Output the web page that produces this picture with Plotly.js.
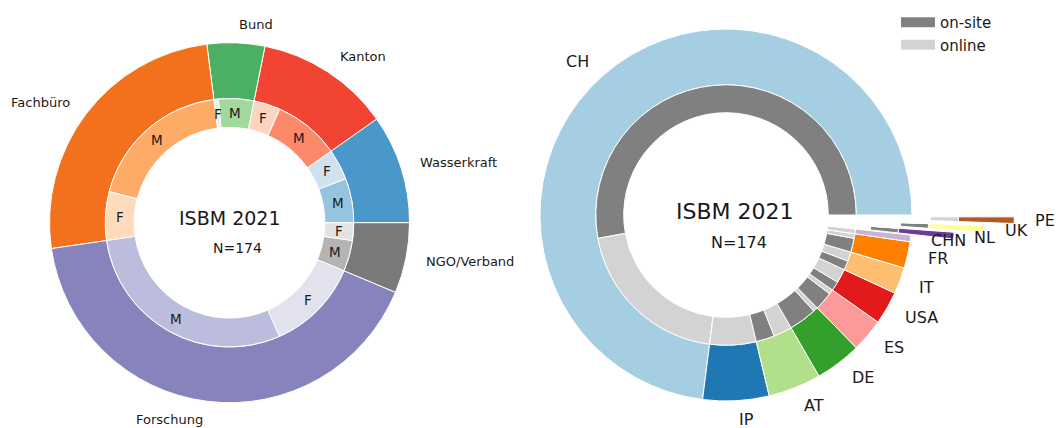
<!DOCTYPE html>
<html><head><meta charset="utf-8">
<script src="https://cdn.plot.ly/plotly-3.0.1.min.js"></script>
<style>html,body{margin:0;padding:0;background:#fff}#chart{width:1056px;height:428px}</style>
</head><body><div id="chart"></div>
<script>
// ---------------- data ----------------
const chartTitle = 'ISBM 2021';
const sectors = ['Wasserkraft', 'Kanton', 'Bund', 'Fachbüro', 'Forschung', 'NGO/Verband'];
const sectorTotals = [17, 21, 9, 44, 72, 11];
const sectorMale = [10, 15, 8, 33, 51, 7];
const sectorFemale = [7, 6, 1, 11, 21, 4];
const genderLabels = ['M', 'F'];

const countries = ['CH', 'IP', 'AT', 'DE', 'ES', 'USA', 'IT', 'FR', 'CHN', 'NL', 'UK', 'PE'];
const countryTotals = [127, 10, 8, 7, 5, 5, 4, 4, 1, 1, 1, 1];
const onsite = [92, 0, 4, 6, 4, 2, 2, 3, 0, 1, 1, 0];
const online = [35, 10, 4, 1, 1, 3, 2, 1, 1, 0, 0, 1];
const modeLabels = ['on-site', 'online'];

// ---------------- style ----------------
const W = 1056, H = 428;
const FONT = 'DejaVu Sans, sans-serif';
const TXT = '#1a1a1a';
const sectorColors = ['#4a98c9', '#f14432', '#4bb062', '#f3711c', '#8683bd', '#7a7a7a'];
const maleColors = ['#94c4df', '#fc8a6a', '#a0d99b', '#fdab67', '#bcbddc', '#b4b4b4'];
const femaleColors = ['#d0e1f2', '#fdd4c2', '#e0f3db', '#fedcbb', '#e2e2ef', '#e3e3e3'];
const countryColors = ['#a6cee3', '#1f78b4', '#b2df8a', '#33a02c', '#fb9a99', '#e31a1c',
  '#fdbf6f', '#ff7f00', '#cab2d6', '#6a3d9a', '#ffff99', '#b15928'];
const modeColors = ['#808080', '#d3d3d3'];
const explode = [0, 0, 0, 0, 0, 0, 0, 0, 0, 0.23, 0.39, 0.55];
const NONE = 'rgba(0,0,0,0)';

const LP = {cx: 229.5, cy: 222.7, R: 180, ringIn: 0.69, innerIn: 0.53, labR: 1.1, gR: 0.61,
  tY: 217.5, nX: 237.5, nY: 248, tSize: 19, nSize: 14, labSize: 13};
const RP = {cx: 726, cy: 215, R: 186, ringIn: 0.70, innerIn: 0.55, labR: 1.1,
  tX: 735, tY: 211, nX: 739, nY: 242.5, tSize: 22, nSize: 16, labSize: 16};

// ---------------- helpers ----------------
const sum = a => a.reduce((s, v) => s + v, 0);
function dom(cx, cy, r) {
  return {x: [(cx - r) / W, (cx + r) / W], y: [1 - (cy + r) / H, 1 - (cy - r) / H]};
}
function midAngles(vals) {
  const t = sum(vals); let c = 0;
  return vals.map(v => { const a = (c + v / 2) / t * 360; c += v; return a; });
}
function interleave(a, b) { const o = []; a.forEach((v, i) => { o.push(v, b[i]); }); return o; }
function ann(px, py, text, size, xanchor) {
  return {xref: 'paper', yref: 'paper', x: px / W, y: 1 - py / H, text: text, showarrow: false,
    xanchor: xanchor || 'center', yanchor: 'middle', font: {family: FONT, size: size, color: TXT}};
}
// Plotly (counterclockwise) ends the first slice at `rotation`; shift so it starts at 3 o'clock
function pie(vals, labels, colors, widths, d, hole) {
  const firstDeg = vals[0] / sum(vals) * 360;
  return {type: 'pie', values: vals, labels: labels, sort: false, direction: 'counterclockwise',
    rotation: 90 - firstDeg, hole: hole, domain: d, textinfo: 'none', showlegend: false,
    hoverinfo: 'label+value',
    marker: {colors: colors, line: {color: '#ffffff', width: widths}}};
}

const traces = [];
const annotations = [];

// ---------------- left chart ----------------
const gVals = interleave(sectorMale, sectorFemale);
const gLabs = [], gCols = [], gText = [];
sectors.forEach((s, i) => {
  gLabs.push(s + ' ' + genderLabels[0], s + ' ' + genderLabels[1]);
  gCols.push(maleColors[i], femaleColors[i]);
  gText.push(genderLabels[0], genderLabels[1]);
});
traces.push(pie(sectorTotals, sectors, sectorColors, 1, dom(LP.cx, LP.cy, LP.R), LP.ringIn));
traces.push(pie(gVals, gLabs, gCols, 1, dom(LP.cx, LP.cy, LP.R * LP.ringIn), LP.innerIn / LP.ringIn));

midAngles(sectorTotals).forEach((a, i) => {
  const c = Math.cos(a * Math.PI / 180), s = Math.sin(a * Math.PI / 180);
  annotations.push(ann(LP.cx + LP.labR * LP.R * c, LP.cy - LP.labR * LP.R * s, sectors[i], LP.labSize,
    c >= 0 ? 'left' : 'right'));
});
midAngles(gVals).forEach((a, i) => {
  const c = Math.cos(a * Math.PI / 180), s = Math.sin(a * Math.PI / 180);
  annotations.push(ann(LP.cx + LP.gR * LP.R * c, LP.cy - LP.gR * LP.R * s, gText[i], 13.5));
});
annotations.push(ann(LP.cx, LP.tY, chartTitle, LP.tSize));
annotations.push(ann(LP.nX, LP.nY, 'N=' + sum(sectorTotals), LP.nSize));

// ---------------- right chart ----------------
const mVals = interleave(onsite, online);
const mLabs = [], mCols = [];
countries.forEach((c, i) => {
  mLabs.push(c + ' ' + modeLabels[0], c + ' ' + modeLabels[1]);
  mCols.push(modeColors[0], modeColors[1]);
});
const outerCols = countryColors.map((col, i) => explode[i] > 0 ? NONE : col);
const outerW = countryColors.map((col, i) => explode[i] > 0 ? 0 : 1);
const innerCols = mCols.map((col, j) => explode[Math.floor(j / 2)] > 0 ? NONE : col);
const innerW = mCols.map((col, j) => explode[Math.floor(j / 2)] > 0 ? 0 : 1);
traces.push(pie(countryTotals, countries, outerCols, outerW, dom(RP.cx, RP.cy, RP.R), RP.ringIn));
traces.push(pie(mVals, mLabs, innerCols, innerW, dom(RP.cx, RP.cy, RP.R * RP.ringIn), RP.innerIn / RP.ringIn));

const cMid = midAngles(countryTotals);
countries.forEach((cn, i) => {
  if (explode[i] <= 0) return;
  const c = Math.cos(cMid[i] * Math.PI / 180), s = Math.sin(cMid[i] * Math.PI / 180);
  const ox = RP.cx + explode[i] * RP.R * c, oy = RP.cy - explode[i] * RP.R * s;
  const oc = countryColors.map((col, k) => k === i ? col : NONE);
  const ow = countryColors.map((col, k) => k === i ? 1 : 0);
  const ic = mCols.map((col, j) => Math.floor(j / 2) === i ? col : NONE);
  const iw = mCols.map((col, j) => Math.floor(j / 2) === i ? 1 : 0);
  traces.push(pie(countryTotals, countries, oc, ow, dom(ox, oy, RP.R), RP.ringIn));
  traces.push(pie(mVals, mLabs, ic, iw, dom(ox, oy, RP.R * RP.ringIn), RP.innerIn / RP.ringIn));
});
cMid.forEach((a, i) => {
  const c = Math.cos(a * Math.PI / 180), s = Math.sin(a * Math.PI / 180);
  const d = (explode[i] + RP.labR) * RP.R;
  annotations.push(ann(RP.cx + d * c, RP.cy - d * s, countries[i], RP.labSize, c >= 0 ? 'left' : 'right'));
});
annotations.push(ann(RP.tX, RP.tY, chartTitle, RP.tSize));
annotations.push(ann(RP.nX, RP.nY, 'N=' + sum(countryTotals), RP.nSize));

// legend entries (on-site / online)
modeLabels.forEach((m, i) => {
  traces.push({type: 'scatter', mode: 'lines', x: [null], y: [null], name: m,
    line: {color: modeColors[i], width: 12}, hoverinfo: 'skip'});
});

const layout = {
  width: W, height: H, margin: {l: 0, r: 0, t: 0, b: 0},
  paper_bgcolor: '#ffffff', plot_bgcolor: '#ffffff',
  font: {family: FONT, color: TXT},
  xaxis: {visible: false}, yaxis: {visible: false},
  showlegend: true,
  legend: {x: 896 / W, y: 1 - 6 / H, xanchor: 'left', yanchor: 'top', itemwidth: 34,
    font: {family: FONT, size: 15, color: TXT}, bgcolor: 'rgba(0,0,0,0)'},
  annotations: annotations
};
Plotly.newPlot('chart', traces, layout, {displayModeBar: false, staticPlot: true});
</script></body></html>
